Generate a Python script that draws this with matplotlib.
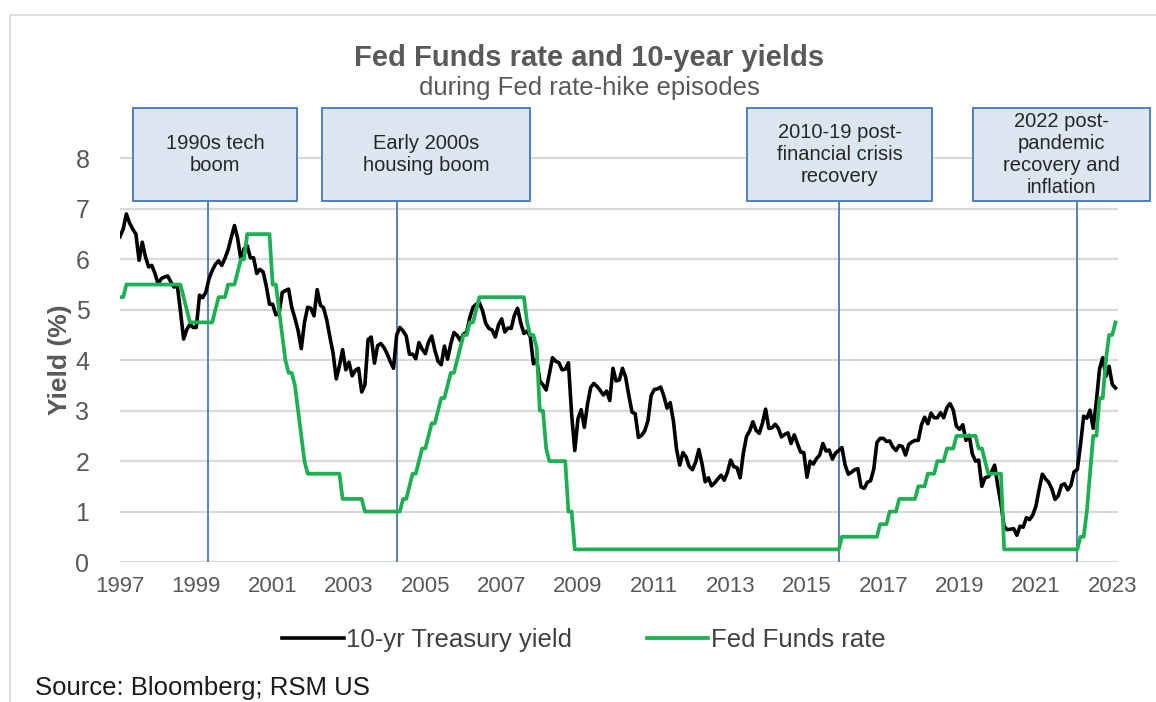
import matplotlib
matplotlib.use("Agg")

import matplotlib.pyplot as plt
from matplotlib.patches import Rectangle

plt.rcParams['font.family'] = ['Liberation Sans', 'DejaVu Sans']

# monthly readings, Jan 1997 .. Feb 2023
treasury_10y = [
    6.45, 6.60, 6.90, 6.72, 6.60, 6.50, 5.98, 6.34, 6.05, 5.85, 5.88, 5.72,   # 1997
    5.51, 5.62, 5.65, 5.67, 5.55, 5.45, 5.49, 4.98, 4.42, 4.61, 4.71, 4.65,   # 1998
    4.65, 5.29, 5.24, 5.35, 5.62, 5.78, 5.90, 5.97, 5.88, 6.02, 6.19, 6.44,   # 1999
    6.67, 6.41, 6.00, 6.21, 6.27, 6.03, 6.03, 5.72, 5.80, 5.75, 5.47, 5.11,   # 2000
    5.11, 4.90, 4.92, 5.34, 5.38, 5.41, 5.05, 4.83, 4.59, 4.23, 4.75, 5.05,   # 2001
    5.03, 4.88, 5.40, 5.09, 5.04, 4.80, 4.46, 4.14, 3.63, 3.89, 4.21, 3.81,   # 2002
    3.96, 3.69, 3.80, 3.84, 3.37, 3.51, 4.41, 4.46, 3.94, 4.29, 4.33, 4.25,   # 2003
    4.13, 3.97, 3.84, 4.50, 4.65, 4.58, 4.48, 4.12, 4.12, 4.03, 4.35, 4.22,   # 2004
    4.13, 4.36, 4.48, 4.20, 3.98, 3.91, 4.28, 4.02, 4.32, 4.55, 4.49, 4.39,   # 2005
    4.52, 4.55, 4.85, 5.05, 5.11, 5.14, 4.98, 4.73, 4.63, 4.60, 4.46, 4.70,   # 2006
    4.82, 4.56, 4.64, 4.63, 4.89, 5.03, 4.74, 4.53, 4.58, 4.47, 3.93, 4.02,   # 2007
    3.59, 3.51, 3.41, 3.73, 4.05, 3.98, 3.95, 3.81, 3.82, 3.95, 2.93, 2.21,   # 2008
    2.84, 3.02, 2.67, 3.13, 3.46, 3.54, 3.48, 3.40, 3.31, 3.39, 3.20, 3.84,   # 2009
    3.59, 3.61, 3.84, 3.66, 3.30, 2.97, 2.94, 2.47, 2.51, 2.60, 2.80, 3.30,   # 2010
    3.42, 3.43, 3.47, 3.29, 3.05, 3.16, 2.80, 2.23, 1.92, 2.17, 2.08, 1.89,   # 2011
    1.83, 1.98, 2.23, 1.95, 1.59, 1.67, 1.51, 1.57, 1.65, 1.72, 1.62, 1.78,   # 2012
    2.02, 1.89, 1.87, 1.67, 2.16, 2.49, 2.60, 2.78, 2.61, 2.55, 2.75, 3.03,   # 2013
    2.65, 2.66, 2.73, 2.65, 2.48, 2.53, 2.56, 2.35, 2.52, 2.35, 2.18, 2.17,   # 2014
    1.68, 2.00, 1.94, 2.05, 2.12, 2.35, 2.20, 2.22, 2.04, 2.16, 2.21, 2.27,   # 2015
    1.92, 1.74, 1.78, 1.83, 1.85, 1.49, 1.46, 1.58, 1.61, 1.84, 2.37, 2.45,   # 2016
    2.45, 2.39, 2.40, 2.28, 2.21, 2.31, 2.29, 2.12, 2.33, 2.38, 2.41, 2.41,   # 2017
    2.72, 2.87, 2.74, 2.95, 2.86, 2.86, 2.96, 2.86, 3.06, 3.14, 3.01, 2.69,   # 2018
    2.63, 2.72, 2.41, 2.51, 2.14, 2.00, 2.02, 1.50, 1.67, 1.69, 1.78, 1.92,   # 2019
    1.51, 1.15, 0.70, 0.64, 0.65, 0.66, 0.53, 0.71, 0.69, 0.88, 0.84, 0.93,   # 2020
    1.11, 1.44, 1.74, 1.65, 1.58, 1.45, 1.24, 1.31, 1.52, 1.55, 1.43, 1.52,   # 2021
    1.79, 1.83, 2.32, 2.89, 2.85, 3.01, 2.65, 3.19, 3.83, 4.05, 3.68, 3.88,   # 2022
    3.52, 3.45,                                                               # 2023
]

fed_funds = [
    5.25, 5.25, 5.50, 5.50, 5.50, 5.50, 5.50, 5.50, 5.50, 5.50, 5.50, 5.50,   # 1997
    5.50, 5.50, 5.50, 5.50, 5.50, 5.50, 5.50, 5.50, 5.25, 5.00, 4.75, 4.75,   # 1998
    4.75, 4.75, 4.75, 4.75, 4.75, 4.75, 5.00, 5.25, 5.25, 5.25, 5.50, 5.50,   # 1999
    5.50, 5.75, 6.00, 6.00, 6.50, 6.50, 6.50, 6.50, 6.50, 6.50, 6.50, 6.50,   # 2000
    5.50, 5.50, 5.00, 4.50, 4.00, 3.75, 3.75, 3.50, 3.00, 2.50, 2.00, 1.75,   # 2001
    1.75, 1.75, 1.75, 1.75, 1.75, 1.75, 1.75, 1.75, 1.75, 1.75, 1.25, 1.25,   # 2002
    1.25, 1.25, 1.25, 1.25, 1.25, 1.00, 1.00, 1.00, 1.00, 1.00, 1.00, 1.00,   # 2003
    1.00, 1.00, 1.00, 1.00, 1.00, 1.25, 1.25, 1.50, 1.75, 1.75, 2.00, 2.25,   # 2004
    2.25, 2.50, 2.75, 2.75, 3.00, 3.25, 3.25, 3.50, 3.75, 3.75, 4.00, 4.25,   # 2005
    4.50, 4.50, 4.75, 4.75, 5.00, 5.25, 5.25, 5.25, 5.25, 5.25, 5.25, 5.25,   # 2006
    5.25, 5.25, 5.25, 5.25, 5.25, 5.25, 5.25, 5.25, 4.75, 4.50, 4.50, 4.25,   # 2007
    3.00, 3.00, 2.25, 2.00, 2.00, 2.00, 2.00, 2.00, 2.00, 1.00, 1.00, 0.25,   # 2008
    0.25, 0.25, 0.25, 0.25, 0.25, 0.25, 0.25, 0.25, 0.25, 0.25, 0.25, 0.25,   # 2009
    0.25, 0.25, 0.25, 0.25, 0.25, 0.25, 0.25, 0.25, 0.25, 0.25, 0.25, 0.25,   # 2010
    0.25, 0.25, 0.25, 0.25, 0.25, 0.25, 0.25, 0.25, 0.25, 0.25, 0.25, 0.25,   # 2011
    0.25, 0.25, 0.25, 0.25, 0.25, 0.25, 0.25, 0.25, 0.25, 0.25, 0.25, 0.25,   # 2012
    0.25, 0.25, 0.25, 0.25, 0.25, 0.25, 0.25, 0.25, 0.25, 0.25, 0.25, 0.25,   # 2013
    0.25, 0.25, 0.25, 0.25, 0.25, 0.25, 0.25, 0.25, 0.25, 0.25, 0.25, 0.25,   # 2014
    0.25, 0.25, 0.25, 0.25, 0.25, 0.25, 0.25, 0.25, 0.25, 0.25, 0.25, 0.50,   # 2015
    0.50, 0.50, 0.50, 0.50, 0.50, 0.50, 0.50, 0.50, 0.50, 0.50, 0.50, 0.75,   # 2016
    0.75, 0.75, 1.00, 1.00, 1.00, 1.25, 1.25, 1.25, 1.25, 1.25, 1.25, 1.50,   # 2017
    1.50, 1.50, 1.75, 1.75, 1.75, 2.00, 2.00, 2.00, 2.25, 2.25, 2.25, 2.50,   # 2018
    2.50, 2.50, 2.50, 2.50, 2.50, 2.50, 2.25, 2.25, 2.00, 1.75, 1.75, 1.75,   # 2019
    1.75, 1.75, 0.25, 0.25, 0.25, 0.25, 0.25, 0.25, 0.25, 0.25, 0.25, 0.25,   # 2020
    0.25, 0.25, 0.25, 0.25, 0.25, 0.25, 0.25, 0.25, 0.25, 0.25, 0.25, 0.25,   # 2021
    0.25, 0.25, 0.50, 0.50, 1.00, 1.75, 2.50, 2.50, 3.25, 3.25, 4.00, 4.50,   # 2022
    4.50, 4.75,                                                               # 2023
]

year_ticks = [1997, 1999, 2001, 2003, 2005, 2007, 2009, 2011, 2013, 2015,
              2017, 2019, 2021, 2023]
y_ticks = [0, 1, 2, 3, 4, 5, 6, 7, 8]

episode_labels = [
    "1990s tech\nboom",
    "Early 2000s\nhousing boom",
    "2010-19 post-\nfinancial crisis\nrecovery",
    "2022 post-\npandemic\nrecovery and\ninflation",
]
episode_start = [1999.3, 2004.26, 2015.83, 2022.08]

months = [1997 + i / 12 for i in range(len(treasury_10y))]

GRAY = "#595959"
GREEN = "#1DB052"

fig = plt.figure(figsize=(11.56, 7.02), dpi=100)
ax = fig.add_axes([120 / 1156, 1 - 562 / 702, 998 / 1156, 454 / 702])

ax.plot(months, treasury_10y, color="black", lw=2.6, zorder=5,
        label="10-yr Treasury yield")
ax.plot(months, fed_funds, color=GREEN, lw=2.7, zorder=6,
        label="Fed Funds rate")

ax.set_xlim(1997, 2023.15)
ax.set_ylim(0, 9)
ax.set_yticks(y_ticks)
ax.set_xticks(year_ticks)
ax.set_xticklabels([str(y) for y in year_ticks])
ax.grid(axis="y", color="#D9D9D9", lw=1.6, zorder=0)
ax.set_axisbelow(True)
for s in ax.spines.values():
    s.set_visible(False)
ax.tick_params(axis="y", length=0, pad=22, labelsize=18, labelcolor=GRAY)
ax.tick_params(axis="x", length=0, pad=10, labelsize=16, labelcolor=GRAY)

# episode boxes (x0, x1) in years, bottom/top in axis units
box_spans = [(1997.34, 2001.64), (2002.29, 2007.74),
             (2013.43, 2018.28), (2019.35, 2023.99)]
box_bottom, box_top = 7.15, 9.0
for label, start, (x0, x1) in zip(episode_labels, episode_start, box_spans):
    ax.plot([start, start], [0, box_bottom], color="#4A76B5", lw=1.3, zorder=3)
    ax.add_patch(Rectangle((x0, box_bottom), x1 - x0, box_top - box_bottom,
                           facecolor="#DCE6F1", edgecolor="#4F81BD", lw=1.4,
                           clip_on=False, zorder=7))
    ax.text((x0 + x1) / 2, (box_bottom + box_top) / 2, label, ha="center",
            va="center", fontsize=14.5, color="#262626", linespacing=1.2,
            zorder=8, clip_on=False)

fig.text(0.51, 1 - 58 / 702, "Fed Funds rate and 10-year yields", ha="center",
         va="center", fontsize=21, fontweight="bold", color=GRAY)
fig.text(0.51, 1 - 88 / 702, "during Fed rate-hike episodes", ha="center",
         va="center", fontsize=18.5, color=GRAY)
fig.text(60 / 1156, 1 - 360 / 702, "Yield (%)", rotation=90, ha="center",
         va="center", fontsize=19, fontweight="bold", color=GRAY)

leg = fig.legend(loc="center", bbox_to_anchor=(0.505, 1 - 640 / 702), ncol=2,
                 frameon=False, fontsize=18.5, handlelength=2.4,
                 handletextpad=0.1, columnspacing=2.9)
for t in leg.get_texts():
    t.set_color("#404040")

fig.text(35 / 1156, 1 - 688 / 702, "Source: Bloomberg; RSM US", ha="left",
         va="center", fontsize=18.5, color="#1A1A1A")

# outer chart frame
fig.add_artist(Rectangle((10 / 1156, -0.05), 1.2, 1.05 - 15 / 702,
                         transform=fig.transFigure, fill=False,
                         edgecolor="#D9D9D9", lw=1.2))

fig.savefig("out.png", dpi=100)
